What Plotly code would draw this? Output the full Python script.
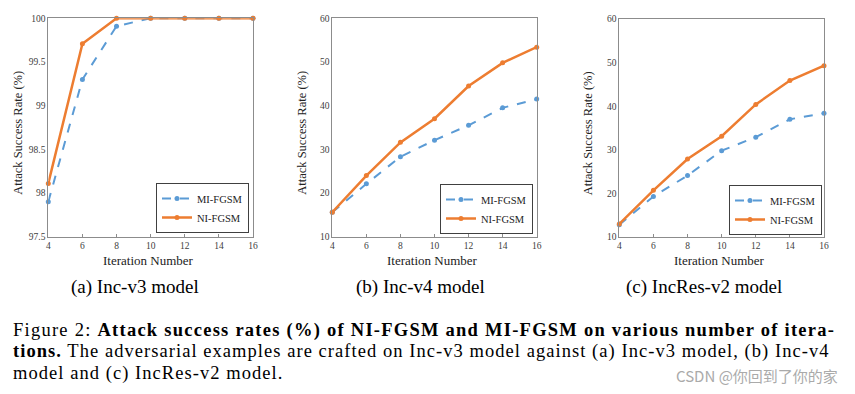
import plotly.graph_objects as go

iters = [4, 6, 8, 10, 12, 14, 16]
mi_v3 = [97.9, 99.3, 99.91, 100, 100, 100, 100]
ni_v3 = [98.11, 99.71, 100, 100, 100, 100, 100]
mi_v4 = [15.6, 22.1, 28.3, 32.1, 35.5, 39.5, 41.5]
ni_v4 = [15.6, 24.0, 31.6, 37.0, 44.5, 49.8, 53.4]
mi_res = [12.8, 19.3, 24.1, 29.8, 32.9, 37.0, 38.4]
ni_res = [13.0, 20.7, 27.9, 33.1, 40.4, 45.9, 49.3]
subtitles = ["(a) Inc-v3 model", "(b) Inc-v4 model", "(c) IncRes-v2 model"]

# page body has an 8px default margin -> figure placed at (8, 8)
OFF = 8
W, H = 855 - OFF, 394 - OFF
BLUE = "#5B9BD5"
ORANGE = "#ED7D31"
SERIF = "Liberation Serif, Times New Roman, serif"


def px(x):
    return (x - OFF) / W


def py(y):
    return 1 - (y - OFF) / H


panels = [
    dict(mi=mi_v3, ni=ni_v3, x0=48.3, x1=253.0, y0=18.3, y1=236.7, yr=[97.5, 100], dt=0.5,
         leg=(249, 233), sub=134.5),
    dict(mi=mi_v4, ni=ni_v4, x0=332.3, x1=536.7, y0=18.3, y1=236.7, yr=[10, 60], dt=10,
         leg=(533, 234), sub=420.5),
    dict(mi=mi_res, ni=ni_res, x0=619.3, x1=824.0, y0=19.0, y1=237.0, yr=[10, 60], dt=10,
         leg=(822, 235), sub=703.5),
]

fig = go.Figure()
layout = dict(width=W, height=H, margin=dict(l=0, r=0, t=0, b=0, autoexpand=False),
              paper_bgcolor="white", plot_bgcolor="white", showlegend=True)
annotations = []

for i, p in enumerate(panels):
    n = "" if i == 0 else str(i + 1)
    xa, ya = "x" + n, "y" + n
    legname = "legend" + n
    fig.add_trace(go.Scatter(x=iters, y=p["mi"], name="MI-FGSM", mode="lines+markers",
                             line=dict(color=BLUE, width=2, dash="dash"),
                             marker=dict(size=5, color=BLUE), cliponaxis=False,
                             xaxis=xa, yaxis=ya, legend=legname))
    fig.add_trace(go.Scatter(x=iters, y=p["ni"], name="NI-FGSM", mode="lines+markers",
                             line=dict(color=ORANGE, width=2.5),
                             marker=dict(size=5, color=ORANGE), cliponaxis=False,
                             xaxis=xa, yaxis=ya, legend=legname))
    axcommon = dict(showline=True, linecolor="#8c8c8c", linewidth=1, mirror=True,
                    showgrid=False, zeroline=False,
                    tickfont=dict(family=SERIF, size=9.5, color="#404040"))
    layout["xaxis" + n] = dict(domain=[px(p["x0"]), px(p["x1"])], range=[4, 16],
                               tickvals=iters, anchor=ya, ticks="inside", ticklen=3,
                               tickcolor="#8c8c8c", **axcommon)
    layout["yaxis" + n] = dict(domain=[py(p["y1"]), py(p["y0"])], range=p["yr"],
                               dtick=p["dt"], anchor=xa, ticks="", **axcommon)
    layout[legname] = dict(x=px(p["leg"][0]), y=py(p["leg"][1]), xanchor="right",
                           yanchor="bottom", bordercolor="#404040", borderwidth=1,
                           bgcolor="white", font=dict(family=SERIF, size=10.5, color="#222"),
                           tracegroupgap=0, itemwidth=30)
    cx = (p["x0"] + p["x1"]) / 2
    annotations.append(dict(text="Attack Success Rate (%)", x=px(p["x0"] - 31),
                            y=py((p["y0"] + p["y1"]) / 2 + 5), xref="paper", yref="paper",
                            textangle=-90, showarrow=False, xanchor="center", yanchor="middle",
                            font=dict(family=SERIF, size=12.5, color="#222")))
    annotations.append(dict(text="Iteration Number", x=px(cx - 2), y=py(260), xref="paper",
                            yref="paper", showarrow=False, xanchor="center", yanchor="middle",
                            font=dict(family=SERIF, size=13, color="#222")))
    annotations.append(dict(text=subtitles[i], x=px(p["sub"]), y=py(286.5), xref="paper",
                            yref="paper", showarrow=False, xanchor="center", yanchor="middle",
                            font=dict(family=SERIF, size=19, color="black")))

cap_lines = [
    "Figure 2: <b>Attack success rates (%) of NI-FGSM and MI-FGSM on various number of itera-</b>",
    "<b>tions.</b> The adversarial examples are crafted on Inc-v3 model against (a) Inc-v3 model, (b) Inc-v4",
    "model and (c) IncRes-v2 model.",
]
cap_spacing = ["1.25px", "1.05px", "1.05px"]
for t, yy, ls in zip(cap_lines, [330, 351.5, 373], cap_spacing):
    annotations.append(dict(text='<span style="letter-spacing:%s">' % ls + t + "</span>",
                            x=px(11), y=py(yy), xref="paper", yref="paper",
                            showarrow=False, xanchor="left", yanchor="middle",
                            font=dict(family=SERIF, size=18.5, color="black")))
annotations.append(dict(text="CSDN @你回到了你的家", x=px(840), y=py(375), xref="paper",
                        yref="paper", showarrow=False, xanchor="right", yanchor="middle",
                        font=dict(family="Noto Sans CJK SC", size=15, color="#aaaaaa")))
layout["annotations"] = annotations
fig.update_layout(**layout)
fig.write_html("out.html")
